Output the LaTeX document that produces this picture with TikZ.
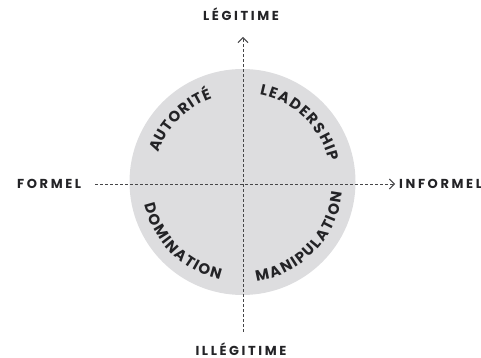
\documentclass[tikz,border=0pt]{standalone}
\usepackage{fontspec}
\newfontfamily\axisfont[LetterSpace=20]{Poppins}
\newfontfamily\arcfont{Poppins}
\newcommand\arclook{\arcfont\bfseries\fontsize{15}{17}\selectfont}
\usetikzlibrary{arrows.meta,decorations.text}
\definecolor{discgray}{RGB}{221,221,223}
\definecolor{ink}{RGB}{35,35,38}
\definecolor{dashgray}{RGB}{70,70,72}
\tikzset{
  axislabel/.style={inner sep=0pt, text=ink, font=\axisfont\bfseries\fontsize{13}{15}\selectfont},
  axisline/.style={draw=dashgray, line width=0.8pt, dash pattern=on 3pt off 2pt,
    -{Straight Barb[length=5pt,width=10pt,line width=1pt]}},
  arclabel/.style={decorate, font=\arclook, decoration={text along path, text align=fit to path,
    text color=ink}},
}
\begin{document}
\begin{tikzpicture}[x=1pt,y=1pt]
  \useasboundingbox (0,0) rectangle (481,358);
  % quadrant disc
  \coordinate (c) at (242.5,176);
  \node[circle, fill=discgray, minimum size=226pt, inner sep=0pt] (disc) at (c) {};

  % axis labels
  \node[axislabel, anchor=base west] (formel) at (17,169) {FORMEL};
  \node[axislabel, anchor=base west] (informel) at (399,169) {INFORMEL};
  \node[axislabel, anchor=base] (legit) at (241,337.5) {LÉGITIME};
  \node[axislabel, anchor=base] (illegit) at (241,2.5) {ILLÉGITIME};

  % axes
  \coordinate (hstart) at (95,174);
  \coordinate (hend) at (395,174);
  \coordinate (vstart) at (243,26);
  \coordinate (vend) at (243,321);
  \draw[axisline] (hstart) -- (hend);
  \draw[axisline] (vstart) -- (vend);

  % curved quadrant names
  \path[arclabel, decoration={text={|\arclook|AUTORIT{É}}}]
    (c) ++(161:89) arc[start angle=161, end angle=110, radius=89];
  \path[arclabel, decoration={text={|\arclook|LEADERSHIP}}]
    (c) ++(79:89) arc[start angle=79, end angle=13, radius=89];
  \path[arclabel, decoration={text={|\arclook|DOMINATION}}]
    (c) ++(193:100.5) arc[start angle=193, end angle=257, radius=100.5];
  \path[arclabel, decoration={text={|\arclook|MANIPULATION}}]
    (c) ++(278:100.5) arc[start angle=278, end angle=354, radius=100.5];
\end{tikzpicture}
\end{document}
